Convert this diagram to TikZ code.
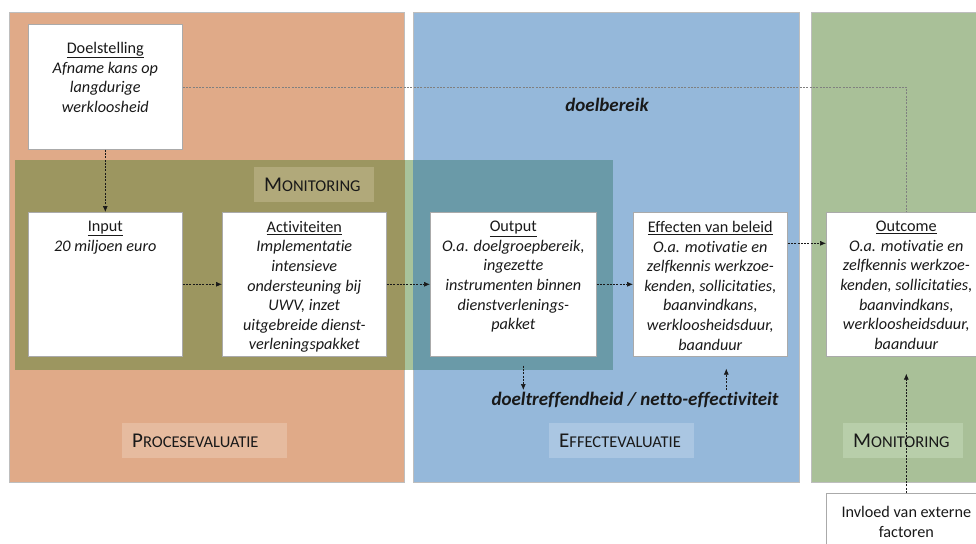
\documentclass[tikz,border=0pt]{standalone}
\usepackage{fontspec}
\setmainfont{Carlito}[Ligatures={TeX,NoCommon}]
\usetikzlibrary{arrows.meta}
\definecolor{procC}{RGB}{224,170,136}
\definecolor{effC}{RGB}{149,184,218}
\definecolor{monC}{RGB}{169,192,152}
\definecolor{ovO}{RGB}{156,150,96}
\definecolor{ovG}{RGB}{168,195,155}
\definecolor{ovB}{RGB}{106,154,168}
\definecolor{labMon}{RGB}{177,169,122}
\definecolor{labProc}{RGB}{230,187,159}
\definecolor{labEff}{RGB}{170,198,226}
\definecolor{labMonB}{RGB}{184,206,170}
\definecolor{edgeC}{RGB}{190,190,190}
\definecolor{boxedge}{RGB}{170,170,170}
\definecolor{ink}{RGB}{25,25,25}
\newcommand{\fakesc}[2]{{\fontsize{21}{21}\selectfont #1}{\fontsize{16.5}{16.5}\selectfont #2}}
\begin{document}
\begin{tikzpicture}[x=1pt,y=-1pt,
 panel/.style={draw=edgeC,line width=0.8pt,anchor=north west,inner sep=0pt},
 wbox/.style={draw=boxedge,fill=white,line width=0.6pt,anchor=north west,inner sep=0pt},
 btxt/.style={anchor=north,align=center,inner sep=0pt,text=ink,font=\fontsize{16.2}{19.6}\selectfont\itshape},
 lab/.style={inner xsep=10pt,inner ysep=0pt,align=left,text=ink,minimum height=35pt,anchor=north west},
 conn/.style={line width=0.7pt,draw=ink,dash pattern=on 2pt off 1.3pt,-{Latex[length=6pt,width=5pt]}},
 guide/.style={line width=0.5pt,draw=gray,dash pattern=on 2pt off 1.3pt}]
\useasboundingbox (0,0) rectangle (976,543);
\fill[white] (0,0) rectangle (976,543);
\clip (0,0) rectangle (976,543);
% panels
\node[panel,fill=procC,minimum width=395pt,minimum height=470pt] (proc) at (9,12) {};
\node[panel,fill=effC,minimum width=386pt,minimum height=470pt] (eff) at (413,12) {};
\node[panel,fill=monC,minimum width=190pt,minimum height=470pt] (mon) at (811,12) {};
% monitoring overlay
\fill[ovO] (15,160) rectangle (404.5,370);
\fill[ovG] (404.5,160) rectangle (413,370);
\fill[ovB] (413,160) rectangle (613,370);
% labels
\node[lab,fill=labMon,text width=100pt] (monlab) at (254,167) {\fakesc{M}{ONITORING}};
\node[lab,fill=labProc,text width=145pt] (proclab) at (122,423) {\fakesc{P}{ROCESEVALUATIE}};
\node[lab,fill=labEff,text width=125pt] (efflab) at (549,423) {\fakesc{E}{FFECTEVALUATIE}};
\node[lab,fill=labMonB,text width=100pt] (monlabB) at (843,423) {\fakesc{M}{ONITORING}};
% boxes
\node[wbox,minimum width=154pt,minimum height=125pt] (doel) at (28,24) {};
\node[wbox,minimum width=154pt,minimum height=144pt] (input) at (28,212) {};
\node[wbox,minimum width=164pt,minimum height=144pt] (act) at (222,212) {};
\node[wbox,minimum width=166pt,minimum height=144pt] (outp) at (430,212) {};
\node[wbox,minimum width=154pt,minimum height=144pt] (effb) at (633,212) {};
\node[wbox,minimum width=160pt,minimum height=144pt] (outc) at (826,212) {};
\node[wbox,minimum width=160pt,minimum height=80pt] (inv) at (826,493) {};
% box texts
\node[btxt] (doelT) at ([yshift=-18pt]doel.north) {\textup{\underline{Doelstelling}}\\Afname kans op\\langdurige\\werkloosheid};
\node[btxt] (inputT) at ([yshift=-9pt]input.north) {\textup{\underline{Input}}\\20 miljoen euro};
\node[btxt] (actT) at ([yshift=-9pt]act.north) {\textup{\underline{Activiteiten}}\\Implementatie\\intensieve\\ondersteuning bij\\UWV, inzet\\uitgebreide dienst-\\verleningspakket};
\node[btxt] (outpT) at ([yshift=-9pt]outp.north) {\textup{\underline{Output}}\\O.a. doelgroepbereik,\\ingezette\\instrumenten binnen\\dienstverlenings-\\pakket};
\node[btxt] (effbT) at ([yshift=-9pt]effb.north) {\textup{\underline{Effecten van beleid}}\\O.a. motivatie en\\zelfkennis werkzoe-\\kenden, sollicitaties,\\baanvindkans,\\werkloosheidsduur,\\baanduur};
\node[btxt] (outcT) at ([yshift=-9pt]outc.north) {\textup{\underline{Outcome}}\\O.a. motivatie en\\zelfkennis werkzoe-\\kenden, sollicitaties,\\baanvindkans,\\werkloosheidsduur,\\baanduur};
\node[btxt,font=\fontsize{16.2}{19.6}\selectfont] (invT) at ([yshift=-13pt]inv.north) {Invloed van externe\\factoren};
% free texts
\node[text=ink,font=\fontsize{19}{19}\selectfont\bfseries\itshape] (doelb) at (607,105) {doelbereik};
\node[anchor=north,inner sep=0pt,text=ink,font=\fontsize{19}{19}\selectfont\bfseries\itshape] (dt) at (635,392) {doeltreffendheid / netto-effectiviteit};
% connectors
\draw[guide] (doel.east) -| (outc.north);
\draw[conn] (doel) -- (input);
\draw[conn] (input) -- (act);
\draw[conn] (act) -- (outp);
\draw[conn] (outp) -- (effb);
\draw[conn] ([yshift=41pt]effb.east) -- ([yshift=41pt]outc.west);
\draw[conn,shorten <=9pt,shorten >=2pt] ([xshift=10pt]outp.south) -- ([xshift=10pt]outp.south |- dt.north);
\draw[conn,shorten <=2pt,shorten >=12pt] ([xshift=16pt]effb.south |- dt.north) -- ([xshift=16pt]effb.south);
\draw[conn,shorten >=17pt] (inv) -- (outc);
\end{tikzpicture}
\end{document}
